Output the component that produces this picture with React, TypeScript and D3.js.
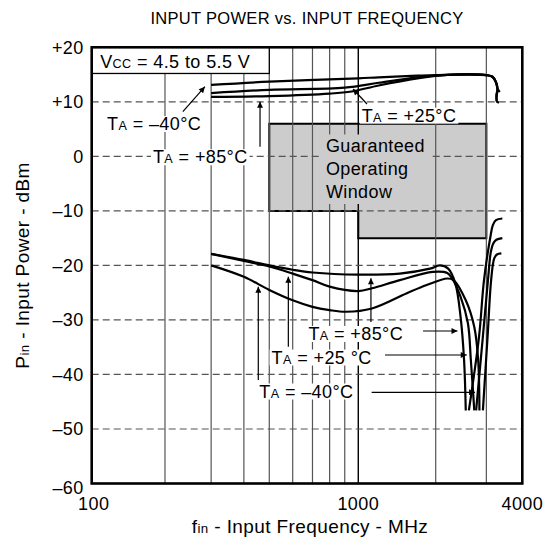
import React, { useEffect, useRef } from 'react';
import * as d3 from 'd3';

// axes
const freqTickValues = [100, 1000, 4000];
const freqGridValues = [200, 300, 400, 500, 600, 700, 800, 900, 2000, 3000];
const powerTickValues = [20, 10, 0, -10, -20, -30, -40, -50, -60];
const powerTickLabels = ['+20', '+10', '0', '–10', '–20', '–30', '–40', '–50', '–60'];

// maximum input power, [MHz, dBm]
const maxMinus40 = [[300, 13.1], [500, 13.7], [1000, 14.3], [1200, 14.5], [1700, 14.8], [2200, 14.95], [3000, 14.9], [3150, 14.6], [3240, 13.6], [3280, 12.4], [3340, 11.8]];
const maxPlus25 = [[300, 11.6], [500, 12.2], [900, 12.6], [1200, 13.5], [1700, 14.5], [2200, 14.95], [3000, 14.9], [3150, 14.6], [3240, 13.6], [3280, 12.3], [3250, 11.3], [3255, 10.1]];
const maxPlus85 = [[300, 10.9], [500, 11.05], [800, 11.5], [950, 11.9], [1200, 13.0], [1700, 14.3], [2200, 14.95], [3000, 14.9], [3150, 14.6], [3240, 13.6], [3280, 12.3], [3262, 11.2], [3268, 10.0], [3320, 9.9]];

// minimum input power (sensitivity), falling part and rising part
const minPlus85 = [[300, -17.9], [400, -19.0], [500, -20.0], [600, -20.8], [700, -21.3], [1000, -21.7], [1450, -21.5], [1900, -20.6], [2070, -20.0], [2210, -20.6], [2340, -23.3], [2440, -29.4], [2510, -37.4], [2544, -46.6]];
const minPlus85Rise = [[2608, -46.6], [2830, -33.0], [2944, -22.7], [3100, -14.7], [3160, -12.6], [3240, -11.7], [3410, -11.4]];
const minPlus25 = [[300, -17.9], [400, -19.2], [500, -20.2], [600, -21.5], [700, -22.7], [800, -23.9], [1000, -24.7], [1130, -24.2], [1450, -22.7], [1950, -21.2], [2194, -21.4], [2281, -22.4], [2443, -25.8], [2588, -30.6], [2650, -37.4], [2724, -46.6]];
const minPlus25Rise = [[2764, -46.6], [2918, -33.0], [3039, -22.7], [3110, -17.5], [3170, -16.0], [3250, -15.3], [3410, -15.0]];
const minMinus40 = [[300, -20.0], [400, -22.1], [500, -24.5], [600, -26.4], [700, -27.6], [800, -28.2], [910, -28.5], [1130, -27.9], [1545, -25.1], [1845, -23.6], [2194, -22.4], [2306, -22.7], [2544, -26.4], [2724, -31.3], [2810, -37.4], [2838, -46.6]];
const minMinus40Rise = [[2918, -46.6], [3030, -33.0], [3117, -22.7], [3195, -18.7], [3265, -18.0], [3383, -17.8]];

// guaranteed operating window outline
const windowOutline = [[500, 6], [3000, 6], [3000, -15], [1000, -15], [1000, -10], [500, -10]];

// temperature labels: text start, arrows [from, to]
const tempLabels = [
  { temp: ' = –40°C', at: [115.6, 4.83], arrows: [[[234, 8.19], [284, 12.77]]] },
  { temp: ' = +85°C', at: [178.5, -1.27], arrows: [[[461, 1.77], [461, 10.02]]] },
  { temp: ' = +25°C', at: [1031, 6.36], arrows: [[[1081, 9.6], [960, 12.35]]] },
  { temp: ' = +85°C', at: [678, -33.68], arrows: [[[1786, -32.03], [2381, -32.03]], [[1120, -30.38], [1120, -22.37]]] },
  { temp: ' = +25 °C', at: [509, -38.0], arrows: [[[1270, -36.43], [2564, -36.43]], [[580, -34.9], [580, -22.07]]] },
  { temp: ' = –40°C', at: [458, -44.23], arrows: [[[1127, -43.27], [2740, -43.27]], [[454, -41.0], [454, -23.9]]] },
];

const font = 'Liberation Sans, Arial, Helvetica, sans-serif';

function App() {
  const ref = useRef<SVGSVGElement>(null);

  useEffect(() => {
    const svg = d3.select(ref.current);
    svg.selectAll('*').remove();

    const left = 91.7, right = 522.3, top = 47.3, bottom = 483.5;
    const w = right - left;

    // the printed log axis is not quite uniform, so it is pinned at a few decades
    const x = d3.scaleLog()
      .domain([100, 200, 500, 1000, 2000, 4000])
      .range([0, 0.1702, 0.4124, 0.6191, 0.7989, 1].map(t => left + t * w));
    const y = d3.scaleLinear().domain([-60, 20]).range([bottom, top]);

    svg.append('defs').append('marker')
      .attr('id', 'arrow')
      .attr('viewBox', '0 0 10 10')
      .attr('refX', 10).attr('refY', 5)
      .attr('markerUnits', 'userSpaceOnUse')
      .attr('markerWidth', 11).attr('markerHeight', 6)
      .attr('orient', 'auto')
      .append('path').attr('d', 'M0,0L10,5L0,10z').attr('fill', '#000');

    const addText = (g, parts, px, py, size, anchor = 'start') => {
      const t = g.append('text')
        .attr('x', px).attr('y', py)
        .attr('font-family', font)
        .attr('font-size', size)
        .attr('letter-spacing', 0.4)
        .attr('text-anchor', anchor)
        .attr('fill', '#000');
      parts.forEach(([s, small]) => {
        t.append('tspan').attr('font-size', small ? size * 0.7 : size).text(s);
      });
      return t;
    };

    // title
    addText(svg, [['INPUT POWER vs. INPUT FREQUENCY', false]], (left + right) / 2, 24, 16.5, 'middle')
      .attr('letter-spacing', 0.3);

    // operating window
    svg.append('path')
      .attr('d', d3.line().x(d => x(d[0])).y(d => y(d[1]))(windowOutline) + 'Z')
      .attr('fill', '#cccccc')
      .attr('stroke', '#000')
      .attr('stroke-width', 2);

    // grid
    svg.selectAll('.vgrid')
      .data(freqGridValues)
      .join('line')
      .attr('class', 'vgrid')
      .attr('x1', d => x(d)).attr('x2', d => x(d))
      .attr('y1', top).attr('y2', bottom)
      .attr('stroke', '#555').attr('stroke-width', 1.2);

    svg.append('line')
      .attr('x1', x(1000)).attr('x2', x(1000))
      .attr('y1', top).attr('y2', bottom)
      .attr('stroke', '#000').attr('stroke-width', 1.4);

    svg.selectAll('.hgrid')
      .data(powerTickValues.slice(1, -1))
      .join('line')
      .attr('class', 'hgrid')
      .attr('x1', left).attr('x2', right)
      .attr('y1', d => y(d)).attr('y2', d => y(d))
      .attr('stroke', '#555').attr('stroke-width', 1.2)
      .attr('stroke-dasharray', '7,4');

    // window text
    const win = svg.append('g');
    const winLines = ['Guaranteed', 'Operating', 'Window'];
    const winX = x(777);
    const winY = [0.71, -3.42, -7.64];
    const winText = winLines.map((s, i) => addText(win, [[s, false]], winX, y(winY[i]), 18));
    const boxes = winText.map(t => (t.node() as SVGTextElement).getBBox());
    const bx0 = d3.min(boxes, b => b.x), bx1 = d3.max(boxes, b => b.x + b.width);
    const by0 = d3.min(boxes, b => b.y), by1 = d3.max(boxes, b => b.y + b.height);
    win.insert('rect', 'text')
      .attr('x', bx0 - 6).attr('y', by0 - 2)
      .attr('width', bx1 - bx0 + 12).attr('height', by1 - by0 + 4)
      .attr('fill', '#cccccc');

    // Vcc box
    svg.append('rect')
      .attr('x', x(100)).attr('y', y(20))
      .attr('width', x(500) - x(100)).attr('height', y(15.2) - y(20))
      .attr('fill', '#fff').attr('stroke', '#000').attr('stroke-width', 1.3);
    addText(svg, [['V', false], ['CC', true], [' = 4.5 to 5.5 V', false]], left + 8.5, 68.3, 18);

    // curves
    const line = d3.line()
      .x(d => x(d[0]))
      .y(d => y(d[1]))
      .curve(d3.curveCatmullRom.alpha(0.5));

    const curves = [maxMinus40, maxPlus25, maxPlus85, minPlus85, minPlus85Rise, minPlus25, minPlus25Rise, minMinus40, minMinus40Rise];
    svg.selectAll('.curve')
      .data(curves)
      .join('path')
      .attr('class', 'curve')
      .attr('d', d => line(d))
      .attr('fill', 'none')
      .attr('stroke', '#000')
      .attr('stroke-width', 2.2)
      .attr('stroke-linejoin', 'round');

    // temperature labels
    tempLabels.forEach(lab => {
      const g = svg.append('g');
      const t = addText(g, [['T', false], ['A', true], [lab.temp, false]], x(lab.at[0]), y(lab.at[1]), 18);
      const b = (t.node() as SVGTextElement).getBBox();
      g.insert('rect', 'text')
        .attr('x', b.x - 2).attr('y', b.y + 2)
        .attr('width', b.width + 4).attr('height', b.height - 4)
        .attr('fill', '#fff');
      lab.arrows.forEach(([a, z]) => {
        svg.append('line')
          .attr('x1', x(a[0])).attr('y1', y(a[1]))
          .attr('x2', x(z[0])).attr('y2', y(z[1]))
          .attr('stroke', '#000').attr('stroke-width', 1.2)
          .attr('marker-end', 'url(#arrow)');
      });
    });

    // frame
    svg.append('rect')
      .attr('x', left).attr('y', top)
      .attr('width', w).attr('height', bottom - top)
      .attr('fill', 'none')
      .attr('stroke', '#000').attr('stroke-width', 2.6);

    // tick labels
    svg.selectAll('.ylab')
      .data(powerTickValues)
      .join('text')
      .attr('class', 'ylab')
      .attr('x', left - 8)
      .attr('y', (d, i) => y(d) + 6.5 + (i === powerTickValues.length - 1 ? 4 : 0))
      .attr('text-anchor', 'end')
      .attr('font-family', font)
      .attr('font-size', 18)
      .attr('letter-spacing', 0.4)
      .text((d, i) => powerTickLabels[i]);

    svg.selectAll('.xlab')
      .data(freqTickValues)
      .join('text')
      .attr('class', 'xlab')
      .attr('x', (d, i) => x(d) + (i === 0 ? 2 : 0))
      .attr('y', bottom + 26)
      .attr('text-anchor', 'middle')
      .attr('font-family', font)
      .attr('font-size', 18)
      .attr('letter-spacing', 0.4)
      .text(d => d);

    // axis titles
    addText(svg, [['f', false], ['in', true], [' - Input Frequency - MHz', false]], 310, 533, 19, 'middle');
    addText(svg, [['P', false], ['in', true], [' - Input Power - dBm', false]], 0, 0, 19, 'middle')
      .attr('transform', `translate(29, ${(top + bottom) / 2}) rotate(-90)`);
  }, []);

  return (
    <svg ref={ref} width={548} height={539}
      style={{ position: 'absolute', left: 0, top: 0, background: '#fff' }} />
  );
}

export default App;
